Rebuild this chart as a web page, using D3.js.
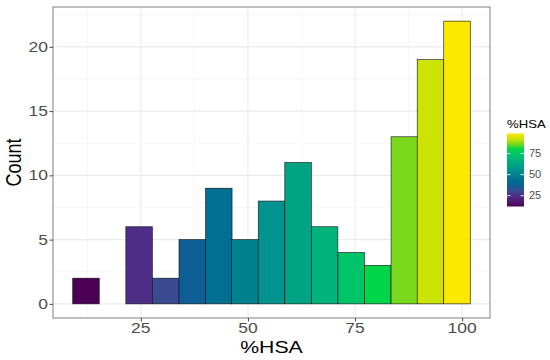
<!DOCTYPE html>
<html><head><meta charset="utf-8">
<script src="https://cdn.jsdelivr.net/npm/d3@7"></script>
<style>body{margin:0;background:#fff}svg{display:block;font-family:"Liberation Sans",Arial,sans-serif}</style>
</head><body>
<svg id="c" width="550" height="360"></svg>
<script>
const binCenters = [12.2, 18.4, 24.6, 30.8, 37.0, 43.2, 49.3, 55.5, 61.7, 67.9, 74.1, 80.3, 86.5, 92.6, 98.8];
const counts = [2, 0, 6, 2, 5, 9, 5, 8, 11, 6, 4, 3, 13, 19, 22];
const binWidth = 6.185;
const xTicks = [25, 50, 75, 100];
const yTicks = [0, 5, 10, 15, 20];
const legendTicks = [25, 50, 75];
const palette = ["#4b0055", "#4f1a72", "#4d2d86", "#3a4b91", "#0e5e97", "#006f91", "#00818f", "#00938f",
                 "#00a383", "#00b47a", "#00c46a", "#00d54a", "#7bd81c", "#cde303", "#fde800"];

const svg = d3.select("#c");
const P = {l: 53, r: 490, t: 7, b: 318};
const x = d3.scaleLinear().domain([4.5, 106.5]).range([P.l, P.r]);
const y = d3.scaleLinear().domain([-1.1, 23.1]).range([P.b, P.t]);
const cmin = d3.min(binCenters), cmax = d3.max(binCenters);
const fill = d3.scaleLinear()
  .domain(palette.map((c, i) => cmin + i * (cmax - cmin) / (palette.length - 1)))
  .range(palette).interpolate(d3.interpolateRgb).clamp(true);
const SX = 1.25;

// grid
const g = svg.append("g");
const xMinor = [12.5, 37.5, 62.5, 87.5], yMinor = [2.5, 7.5, 12.5, 17.5, 22.5];
g.selectAll(".xm").data(xMinor).join("line").attr("x1", d => x(d)).attr("x2", d => x(d)).attr("y1", P.t).attr("y2", P.b).attr("stroke", "#f2f2f2").attr("stroke-width", 0.6);
g.selectAll(".ym").data(yMinor).join("line").attr("y1", d => y(d)).attr("y2", d => y(d)).attr("x1", P.l).attr("x2", P.r).attr("stroke", "#f2f2f2").attr("stroke-width", 0.6);
g.selectAll(".xM").data(xTicks).join("line").attr("x1", d => x(d)).attr("x2", d => x(d)).attr("y1", P.t).attr("y2", P.b).attr("stroke", "#ebebeb").attr("stroke-width", 1.1);
g.selectAll(".yM").data(yTicks).join("line").attr("y1", d => y(d)).attr("y2", d => y(d)).attr("x1", P.l).attr("x2", P.r).attr("stroke", "#ebebeb").attr("stroke-width", 1.1);

// bars
svg.append("g").selectAll("rect").data(binCenters).join("rect")
  .attr("x", d => x(d - binWidth / 2))
  .attr("width", (d) => x(d + binWidth / 2) - x(d - binWidth / 2))
  .attr("y", (d, i) => y(counts[i]))
  .attr("height", (d, i) => y(0) - y(counts[i]))
  .attr("fill", d => fill(d))
  .attr("stroke", "#111").attr("stroke-width", 0.6);

// panel border
svg.append("rect").attr("x", P.l).attr("y", P.t).attr("width", P.r - P.l).attr("height", P.b - P.t)
  .attr("fill", "none").attr("stroke", "#8c8c8c").attr("stroke-width", 1.1);

// axes
const xa = svg.append("g").attr("transform", `translate(0,${P.b})`).call(d3.axisBottom(x).tickValues(xTicks).tickSize(3.5).tickPadding(2));
const ya = svg.append("g").attr("transform", `translate(${P.l},0)`).call(d3.axisLeft(y).tickValues(yTicks).tickSize(3.5).tickPadding(2));
[xa, ya].forEach(a => { a.select(".domain").remove(); a.selectAll(".tick line").attr("stroke", "#444"); });
xa.selectAll(".tick text").text(null);
ya.selectAll(".tick text").text(null);
svg.append("g").selectAll("text").data(xTicks).join("text")
  .attr("transform", d => `translate(${x(d)},333) scale(${SX},1)`)
  .attr("text-anchor", "middle").attr("font-size", 14).attr("fill", "#4d4d4d").text(d => d);
svg.append("g").selectAll("text").data(yTicks).join("text")
  .attr("transform", d => `translate(48,${y(d) + 5}) scale(${SX},1)`)
  .attr("text-anchor", "end").attr("font-size", 14).attr("fill", "#4d4d4d").text(d => d);

// titles
svg.append("text").attr("transform", `translate(${(P.l + P.r) / 2},353) scale(${SX},1)`)
  .attr("text-anchor", "middle").attr("font-size", 17).attr("fill", "#000").text("%HSA");
svg.append("text").attr("transform", `translate(21,${(P.t + P.b) / 2}) scale(${SX},1) rotate(-90)`)
  .attr("text-anchor", "middle").attr("font-size", 18).attr("fill", "#000").text("Count");

// legend
const L = {x: 507, y: 133.5, w: 17, h: 73};
const defs = svg.append("defs");
const grad = defs.append("linearGradient").attr("id", "vg").attr("x1", 0).attr("y1", 1).attr("x2", 0).attr("y2", 0);
palette.forEach((c, i) => grad.append("stop").attr("offset", i / (palette.length - 1)).attr("stop-color", c));
svg.append("rect").attr("x", L.x).attr("y", L.y).attr("width", L.w).attr("height", L.h).attr("fill", "url(#vg)");
const ly = d3.scaleLinear().domain([cmin, cmax]).range([L.y + L.h, L.y]);
const lg = svg.append("g");
lg.selectAll(".tl").data(legendTicks).join("line").attr("x1", L.x).attr("x2", L.x + 3.5).attr("y1", d => ly(d)).attr("y2", d => ly(d)).attr("stroke", "#fff").attr("stroke-width", 0.8);
lg.selectAll(".tr").data(legendTicks).join("line").attr("x1", L.x + L.w - 3.5).attr("x2", L.x + L.w).attr("y1", d => ly(d)).attr("y2", d => ly(d)).attr("stroke", "#fff").attr("stroke-width", 0.8);
lg.selectAll("text").data(legendTicks).join("text")
  .attr("transform", d => `translate(529,${ly(d) + 3.5}) scale(1.1,1)`)
  .attr("font-size", 10).attr("fill", "#4d4d4d").text(d => d);
svg.append("text").attr("transform", `translate(507,128) scale(${SX},1)`)
  .attr("font-size", 10.5).attr("fill", "#000").text("%HSA");
</script>
</body></html>
